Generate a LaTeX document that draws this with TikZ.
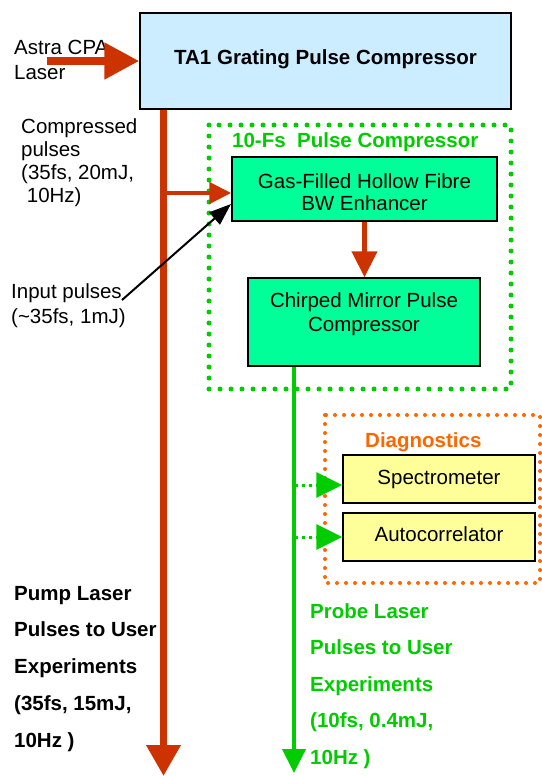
\documentclass[tikz,border=0pt]{standalone}
\usepackage{fontspec}
\setmainfont{Liberation Sans}
\usetikzlibrary{arrows.meta}
\definecolor{laserred}{RGB}{204,51,0}
\definecolor{probegreen}{RGB}{0,204,0}
\definecolor{diagorange}{RGB}{255,102,0}
\definecolor{boxblue}{RGB}{204,236,255}
\definecolor{boxgreen}{RGB}{0,255,153}
\definecolor{boxyellow}{RGB}{255,255,153}
\begin{document}
\begin{tikzpicture}[x=1pt,y=-1pt,
  box/.style={draw=black, line width=1.5pt, inner sep=0pt},
  txt/.style={font=\fontsize{20.5}{24}\selectfont, inner sep=0pt},
  btxt/.style={font=\bfseries\fontsize{20.5}{24}\selectfont, inner sep=0pt},
  laser/.style={draw=laserred, fill=laserred},
  probe/.style={draw=probegreen, fill=probegreen},
  greendots/.style={draw=probegreen, line width=5pt, line cap=round, dash pattern=on 0pt off 11pt},
  orangedots/.style={draw=diagorange, line width=4pt, line cap=round, dash pattern=on 0pt off 9pt},
  smalldots/.style={line width=3pt, dash pattern=on 3pt off 4pt, dash phase=1pt}
]
\useasboundingbox (0,0) rectangle (541,776);

% frames
\draw[greendots] (209,125) rectangle (511,389);
\draw[orangedots] (325,415) rectangle (540,583);

% boxes
\node[box, fill=boxblue, minimum width=371pt, minimum height=96pt] (ta1) at (325.5,61) {};
\node[btxt, anchor=base] (ta1t) at (325.5,65) {TA1 Grating Pulse Compressor};

\node[box, fill=boxgreen, minimum width=265pt, minimum height=64pt] (gas) at (364.5,189) {};
\node[txt, align=center, font=\fontsize{20.5}{22}\selectfont] (gast) at (364.5,192.5) {Gas-Filled Hollow Fibre\\BW Enhancer};

\node[box, fill=boxgreen, minimum width=232pt, minimum height=88pt] (chirp) at (364,322) {};
\node[txt, align=center, font=\fontsize{20.5}{24}\selectfont] (chirpt) at (364,314) {Chirped Mirror Pulse\\Compressor};

\node[box, fill=boxyellow, minimum width=192pt, minimum height=48pt] (spec) at (439,479) {};
\node[txt, anchor=base] (spect) at (439,484) {Spectrometer};
\node[box, fill=boxyellow, minimum width=192pt, minimum height=48pt] (auto) at (439,537) {};
\node[txt, anchor=base] (autot) at (439,541.5) {Autocorrelator};

% titles
\node[btxt, text=probegreen, anchor=base west] (pctitle) at (232,147) {10-Fs\ \ Pulse Compressor};
\node[btxt, text=diagorange, anchor=base west] (diagtitle) at (365,447) {Diagnostics};

% left texts
\node[txt, anchor=base west] (astra1) at (14,55) {Astra CPA};
\node[txt, anchor=base west] (astra2) at (14,79) {Laser};
\foreach \t [count=\i] in {Compressed,pulses,{(35fs, 20mJ,},{\ 10Hz)}}
  \node[txt, anchor=base west] (cp\i) at (21,133+23*\i-23) {\t};
\node[txt, anchor=base west] (inp1) at (11,298) {Input pulses};
\node[txt, anchor=base west] (inp2) at (11,323) {(\char`~35fs, 1mJ)};
\foreach \t [count=\i] in {Pump Laser,Pulses to User,Experiments,{(35fs, 15mJ,},10Hz )}
  \node[btxt, anchor=base west] (pump\i) at (14,600+36.75*\i-36.75) {\t};
\foreach \t [count=\i] in {Probe Laser,Pulses to User,Experiments,{(10fs, 0.4mJ,},10Hz )}
  \node[btxt, text=probegreen, anchor=base west] (probe\i) at (310,618+36.5*\i-36.5) {\t};

% connectors
\coordinate (astra) at (47,61);
\draw[laser, line width=8pt, -{Triangle[length=35pt,width=35pt]}] (astra) -- (ta1.west);
\coordinate (pumpend) at (163.5,776);
\draw[laser, line width=7pt, -{Triangle[length=31pt,width=33pt]}] (ta1.south -| pumpend) -- (pumpend);
\coordinate (br) at (163.5,193);
\draw[laser, line width=4.5pt, -{Triangle[length=22pt,width=21pt]}] (br) -- (br -| gas.west);
\draw[laser, line width=4.5pt, -{Triangle[length=26pt,width=25pt]}] (gas.south) -- (gas.south |- chirp.north);
\coordinate (probeend) at (294,773);
\draw[probe, line width=4pt, -{Triangle[length=24pt,width=23pt]}] (chirp.south -| probeend) -- (probeend);
\coordinate (d1) at (296,485);
\coordinate (d2) at (296,537);
\draw[probe, smalldots, -{Triangle[length=26pt,width=25pt]}] (d1) -- (d1 -| spec.west);
\draw[probe, smalldots, -{Triangle[length=26pt,width=25pt]}] (d2) -- (d2 -| auto.west);
\coordinate (inpstart) at (122,300);
\coordinate (inptip) at (231,204);
\draw[black, fill=black, line width=2pt, -{Triangle[length=22pt,width=16pt]}] (inpstart) -- (inptip);
\end{tikzpicture}
\end{document}
